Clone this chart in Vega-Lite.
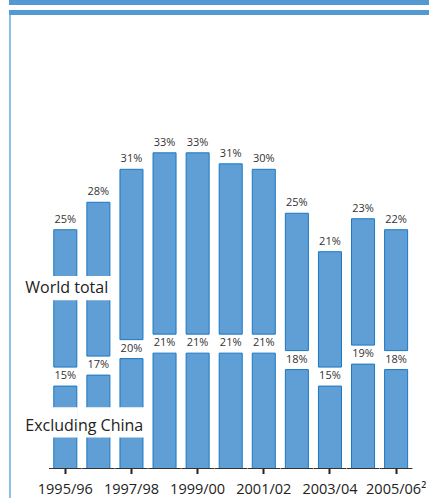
{
  "$schema": "https://vega.github.io/schema/vega-lite/v6.json",
  "width": 420,
  "height": 456,
  "autosize": "none",
  "padding": {"left": 9, "top": 12.5, "right": 0, "bottom": 29.5},
  "background": "white",
  "config": {"view": {"stroke": null}, "font": "Open Sans"},
  "datasets": {
    "shares": [
      {"year": "1995/96", "series": "Excluding China", "value": 0.15},
      {"year": "1995/96", "series": "World total", "value": 0.25},
      {"year": "1996/97", "series": "Excluding China", "value": 0.17},
      {"year": "1996/97", "series": "World total", "value": 0.28},
      {"year": "1997/98", "series": "Excluding China", "value": 0.20},
      {"year": "1997/98", "series": "World total", "value": 0.31},
      {"year": "1998/99", "series": "Excluding China", "value": 0.21},
      {"year": "1998/99", "series": "World total", "value": 0.33},
      {"year": "1999/00", "series": "Excluding China", "value": 0.21},
      {"year": "1999/00", "series": "World total", "value": 0.33},
      {"year": "2000/01", "series": "Excluding China", "value": 0.21},
      {"year": "2000/01", "series": "World total", "value": 0.31},
      {"year": "2001/02", "series": "Excluding China", "value": 0.21},
      {"year": "2001/02", "series": "World total", "value": 0.30},
      {"year": "2002/03", "series": "Excluding China", "value": 0.18},
      {"year": "2002/03", "series": "World total", "value": 0.25},
      {"year": "2003/04", "series": "Excluding China", "value": 0.15},
      {"year": "2003/04", "series": "World total", "value": 0.21},
      {"year": "2004/05", "series": "Excluding China", "value": 0.19},
      {"year": "2004/05", "series": "World total", "value": 0.23},
      {"year": "2005/06", "series": "Excluding China", "value": 0.18},
      {"year": "2005/06", "series": "World total", "value": 0.22}
    ]
  },
  "layer": [
    {
      "data": {"values": [{}]},
      "layer": [
        {
          "mark": {"type": "rule", "color": "#5499d2", "strokeWidth": 5},
          "encoding": {"y": {"datum": 0.8482, "type": "quantitative", "scale": {"domain": [0, 0.83], "nice": false}, "axis": null}}
        },
        {
          "mark": {"type": "rule", "color": "#5499d2", "strokeWidth": 5},
          "encoding": {"y": {"datum": 0.83, "type": "quantitative", "scale": {"domain": [0, 0.83], "nice": false}, "axis": null}}
        },
        {
          "mark": {"type": "rule", "color": "#8ec1ea", "strokeWidth": 2},
          "encoding": {
            "x": {"datum": 1, "type": "quantitative", "scale": {"domain": [0, 420], "nice": false, "zero": false}, "axis": null},
            "y": {"datum": 0.8255, "type": "quantitative", "scale": {"domain": [0, 0.83], "nice": false}, "axis": null},
            "y2": {"datum": -0.055}
          }
        }
      ]
    },
    {
      "data": {"name": "shares"},
      "transform": [
        {"stack": "value", "groupby": ["year"], "sort": [{"field": "series", "order": "ascending"}], "as": ["v0", "v1"]}
      ],
      "encoding": {
        "x": {
          "field": "year",
          "type": "nominal",
          "scale": {"paddingInner": 0.304, "paddingOuter": 1.094, "align": 0.677},
          "axis": {
            "title": null,
            "domain": false,
            "values": ["1995/96", "1997/98", "1999/00", "2001/02", "2003/04", "2005/06"],
            "labelExpr": "datum.value == '2005/06' ? '2005/06²' : datum.value",
            "labelAngle": 0,
            "labelFontSize": 14.5,
            "labelColor": "#222222",
            "labelPadding": 9,
            "tickSize": 5,
            "tickWidth": 2,
            "tickColor": "#222222",
            "grid": false
          }
        }
      },
      "layer": [
        {
          "transform": [{"filter": "datum.series == 'World total'"}],
          "mark": {"type": "bar", "fill": "#5f9fd6", "stroke": "#1a78c2", "strokeWidth": 1, "yOffset": -19, "y2Offset": -19},
          "encoding": {
            "y": {"field": "v1", "type": "quantitative", "scale": {"domain": [0, 0.83], "nice": false}, "axis": null},
            "y2": {"field": "v0"}
          }
        },
        {
          "transform": [{"filter": "datum.series == 'Excluding China'"}],
          "mark": {"type": "bar", "fill": "#5f9fd6", "stroke": "#1a78c2", "strokeWidth": 1},
          "encoding": {
            "y": {"field": "v1", "type": "quantitative", "scale": {"domain": [0, 0.83], "nice": false}, "axis": null},
            "y2": {"field": "v0"}
          }
        },
        {
          "transform": [{"filter": "datum.series == 'World total' && (datum.year == '1995/96' || datum.year == '1996/97')"}],
          "mark": {"type": "bar", "fill": "white", "stroke": "white", "strokeWidth": 2},
          "encoding": {
            "y": {"datum": 0.3486, "type": "quantitative", "scale": {"domain": [0, 0.83], "nice": false}, "axis": null},
            "y2": {"datum": 0.308}
          }
        },
        {
          "transform": [{"filter": "datum.series == 'World total' && (datum.year == '1995/96' || datum.year == '1996/97' || datum.year == '1997/98')"}],
          "mark": {"type": "bar", "fill": "white", "stroke": "white", "strokeWidth": 2},
          "encoding": {
            "y": {"datum": 0.1096, "type": "quantitative", "scale": {"domain": [0, 0.83], "nice": false}, "axis": null},
            "y2": {"datum": 0.0582}
          }
        },
        {
          "transform": [{"filter": "datum.series == 'World total'"}],
          "mark": {"type": "tick", "orient": "horizontal", "color": "#333333", "thickness": 1, "size": 32.6, "opacity": 1},
          "encoding": {
            "y": {"datum": 0, "type": "quantitative", "scale": {"domain": [0, 0.83], "nice": false}, "axis": null}
          }
        },
        {
          "transform": [{"filter": "datum.series == 'World total'"}],
          "mark": {"type": "text", "fontSize": 11, "color": "#333333", "baseline": "alphabetic", "dy": -26},
          "encoding": {
            "y": {"field": "v1", "type": "quantitative", "scale": {"domain": [0, 0.83], "nice": false}, "axis": null},
            "text": {"field": "value", "type": "quantitative", "format": ".0%"}
          }
        },
        {
          "transform": [{"filter": "datum.series == 'Excluding China'"}],
          "mark": {"type": "text", "fontSize": 11, "color": "#333333", "baseline": "alphabetic", "dy": -7},
          "encoding": {
            "y": {"field": "v1", "type": "quantitative", "scale": {"domain": [0, 0.83], "nice": false}, "axis": null},
            "text": {"field": "value", "type": "quantitative", "format": ".0%"}
          }
        },
        {
          "transform": [{"filter": "datum.series == 'World total' && datum.year == '1995/96'"}],
          "mark": {"type": "text", "text": "World total", "fontSize": 16, "color": "#222222", "align": "left", "baseline": "alphabetic", "dx": -40},
          "encoding": {
            "y": {"datum": 0.3203, "type": "quantitative", "scale": {"domain": [0, 0.83], "nice": false}, "axis": null}
          }
        },
        {
          "transform": [{"filter": "datum.series == 'World total' && datum.year == '1995/96'"}],
          "mark": {"type": "text", "text": "Excluding China", "fontSize": 16, "color": "#222222", "align": "left", "baseline": "alphabetic", "dx": -40},
          "encoding": {
            "y": {"datum": 0.0688, "type": "quantitative", "scale": {"domain": [0, 0.83], "nice": false}, "axis": null}
          }
        }
      ]
    }
  ],
  "resolve": {"scale": {"x": "independent"}}
}
